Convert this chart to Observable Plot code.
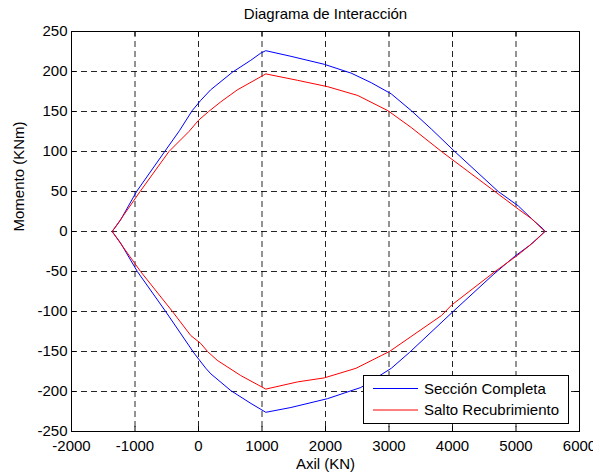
<!DOCTYPE html>
<html>
<head>
<meta charset="utf-8">
<script src="https://cdn.jsdelivr.net/npm/d3@7"></script>
<script src="https://cdn.jsdelivr.net/npm/@observablehq/plot@0.6"></script>
<style>
  html, body { margin: 0; padding: 0; background: #fff; }
  #chart { position: relative; width: 593px; height: 474px; }
</style>
</head>
<body>
<div id="chart"></div>
<script>
// ---- Data ----
const titleText = "Diagrama de Interacción";
const xLabel = "Axil (KN)";
const yLabel = "Momento (KNm)";
const seriesNames = ["Sección Completa", "Salto Recubrimiento"];
const seriesColors = ["#0000ff", "#ff0000"];

const xTicks = [-2000, -1000, 0, 1000, 2000, 3000, 4000, 5000, 6000];
const yTicks = [-250, -200, -150, -100, -50, 0, 50, 100, 150, 200, 250];

// Sección Completa: closed loop, upper branch left->right, lower branch right->left
const completaAxil = [
  -1360, -1230, -975, -532, -300, -100, 36, 190, 532, 823, 981, 1060,
  1455, 1981, 2403, 2720, 3036, 3352, 3668, 4035, 4720, 5036, 5245, 5430, 5456,
  5220, 4980, 4640, 4010, 3325, 3036, 2556, 2030, 1455, 1060,
  827, 511, 195, 115, -70, -517, -963, -1230, -1360
];
const completaMomento = [
  0, 14, 50, 100, 126, 151, 164, 177, 199, 214, 223, 226,
  219, 209, 198, 186, 172, 151, 128, 100, 50, 32, 16, 3, 0,
  -17, -31, -54, -100, -151, -171, -195, -209, -220, -226,
  -215, -199, -178, -171, -152, -100, -50, -14, 0
];

// Salto Recubrimiento
const saltoAxil = [
  -1360, -1200, -920, -465, -150, 0, 160, 350, 611, 1060,
  1560, 2035, 2509, 2983, 3350, 3827, 4617, 5036, 5245, 5456,
  5284, 5020, 4670, 3985, 3827, 3007, 2880, 2480, 1980, 1560, 1060,
  664, 295, 142, 36, -122, -410, -912, -1200, -1360
];
const saltoMomento = [
  0, 18, 50, 100, 125, 139, 150, 162, 177, 197,
  189, 181, 170, 151, 130, 100, 53, 28, 16, 0,
  -13, -30, -50, -92, -105, -150, -155, -171, -183, -188, -197,
  -180, -161, -150, -140, -130, -100, -50, -18, 0
];

// ---- Build table ----
const completa = completaAxil.map((x, i) => ({x, y: completaMomento[i], s: seriesNames[0]}));
const salto = saltoAxil.map((x, i) => ({x, y: saltoMomento[i], s: seriesNames[1]}));

const FONT = "'Liberation Sans', Arial, Helvetica, sans-serif";
const FS = 15;
const TITLE_FS = 15;
const tickLenPx = 5;
const yPerPx = (yTicks[yTicks.length - 1] - yTicks[0]) / 400;
const xPerPx = (xTicks[xTicks.length - 1] - xTicks[0]) / 508;
const xMin = xTicks[0], xMax = xTicks[xTicks.length - 1];
const yMin = yTicks[0], yMax = yTicks[yTicks.length - 1];

const grid = {stroke: "#000", strokeOpacity: 0.85, strokeDasharray: "6,4", strokeWidth: 1};

const plot = Plot.plot({
  width: 593,
  height: 474,
  marginLeft: 71,
  marginRight: 14,
  marginTop: 31,
  marginBottom: 43,
  x: {domain: [xMin, xMax]},
  y: {domain: [yMin, yMax]},
  style: {fontFamily: FONT, fontSize: FS + "px", background: "#fff", color: "#000", overflow: "visible"},
  marks: [
    Plot.ruleX(xTicks.slice(1, -1), {x: d => d, ...grid}),
    Plot.ruleY(yTicks.slice(1, -1), {y: d => d, ...grid}),
    // inward ticks on all four sides
    Plot.ruleX(xTicks, {x: d => d, y1: yMin, y2: yMin + tickLenPx * yPerPx, stroke: "#000"}),
    Plot.ruleX(xTicks, {x: d => d, y1: yMax, y2: yMax - tickLenPx * yPerPx, stroke: "#000"}),
    Plot.ruleY(yTicks, {y: d => d, x1: xMin, x2: xMin + tickLenPx * xPerPx, stroke: "#000"}),
    Plot.ruleY(yTicks, {y: d => d, x1: xMax, x2: xMax - tickLenPx * xPerPx, stroke: "#000"}),
    Plot.line(completa, {x: "x", y: "y", stroke: seriesColors[0], strokeWidth: 1}),
    Plot.line(salto, {x: "x", y: "y", stroke: seriesColors[1], strokeWidth: 1}),
    Plot.frame({stroke: "#000", strokeWidth: 1}),
    Plot.axisX(xTicks, {anchor: "bottom", tickSize: 0, tickPadding: 9, tickFormat: d => String(d), label: null, fontSize: FS}),
    Plot.axisY(yTicks, {anchor: "left", tickSize: 0, tickPadding: 4, tickFormat: d => String(d), label: null, fontSize: FS}),
    Plot.text([titleText], {frameAnchor: "top", dy: -13, lineAnchor: "bottom", fontSize: TITLE_FS, fill: "#000"}),
    Plot.text([xLabel], {frameAnchor: "bottom", dy: 37.5, lineAnchor: "bottom", fontSize: FS, fill: "#000"}),
    Plot.text([yLabel], {frameAnchor: "left", dx: -52, rotate: -90, lineAnchor: "middle", fontSize: FS, fill: "#000"})
  ]
});

document.getElementById("chart").appendChild(plot);

// ---- Legend (SouthEast, inside the axes) ----
const xs = plot.scale("x"), ys = plot.scale("y");
const frameRight = xs.range[1], frameBottom = ys.range[0];
const lgW = 205, lgH = 48;
const lgX = Math.round(frameRight - 11 - lgW), lgY = Math.round(frameBottom - 8 - lgH);
const svg = d3.select(plot);
const g = svg.append("g")
  .attr("font-family", FONT)
  .attr("font-size", FS)
  .attr("text-anchor", "start")
  .attr("fill", "none");
g.append("rect").attr("x", lgX + 0.5).attr("y", lgY + 0.5).attr("width", lgW).attr("height", lgH)
  .attr("fill", "#fff").attr("stroke", "#000").attr("stroke-width", 1);
seriesNames.forEach((name, i) => {
  const cy = lgY + 13.5 + i * 21.5;
  g.append("path")
    .attr("d", `M${lgX + 10},${cy}H${lgX + 55}`)
    .attr("fill", "none")
    .attr("stroke", seriesColors[i])
    .attr("stroke-width", 1);
  g.append("text")
    .attr("x", lgX + 61)
    .attr("y", cy)
    .attr("dy", "0.35em")
    .attr("text-anchor", "start")
    .attr("fill", "#000")
    .text(name);
});
</script>
</body>
</html>
